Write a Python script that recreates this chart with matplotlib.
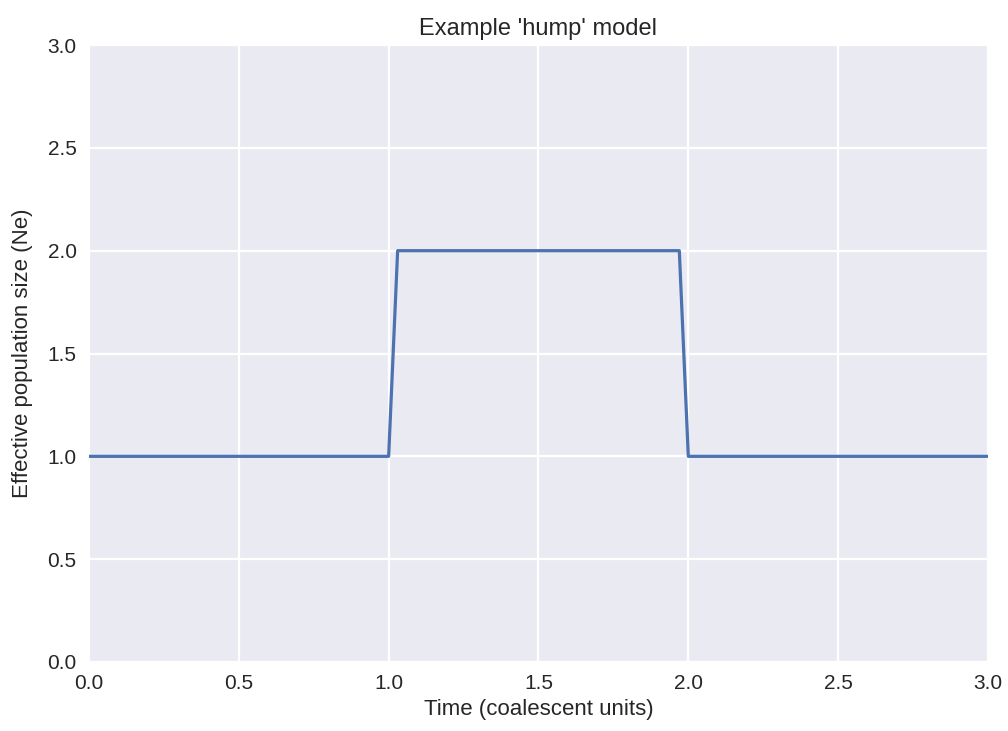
import matplotlib
matplotlib.use("Agg")
import matplotlib.pyplot as plt

# Ne trajectory: flat at 1, jumps to 2 between t=1 and t=2
time = [0.0, 1.0, 1.03, 1.97, 2.0, 3.0]
ne = [1.0, 1.0, 2.0, 2.0, 1.0, 1.0]

plt.rcParams['font.family'] = ['Liberation Sans', 'DejaVu Sans']

fig = plt.figure(figsize=(10.08, 7.31), dpi=100)
ax = fig.add_axes([0.0883, 0.0944, 0.8918, 0.844])
ax.set_facecolor('#EAEAF2')
for s in ax.spines.values():
    s.set_visible(False)
ax.grid(True, color='white', linewidth=1.6)
ax.set_axisbelow(True)
ax.tick_params(length=0, labelsize=15, colors='#262626', pad=9)

ax.plot(time, ne, color='#4C72B0', linewidth=2.3)

ax.set_xlim(0, 3)
ax.set_ylim(0, 3)
ax.set_xticks([0, 0.5, 1.0, 1.5, 2.0, 2.5, 3.0])
ax.set_yticks([0, 0.5, 1.0, 1.5, 2.0, 2.5, 3.0])
ax.set_xticklabels([f"{v:.1f}" for v in ax.get_xticks()])
ax.set_yticklabels([f"{v:.1f}" for v in ax.get_yticks()])

ax.set_xlabel('Time (coalescent units)', fontsize=16, color='#262626', labelpad=4)
ax.set_ylabel('Effective population size (Ne)', fontsize=16, color='#262626', labelpad=10)
ax.set_title("Example 'hump' model", fontsize=17, color='#262626', pad=7)

fig.savefig('out.png', dpi=100)
